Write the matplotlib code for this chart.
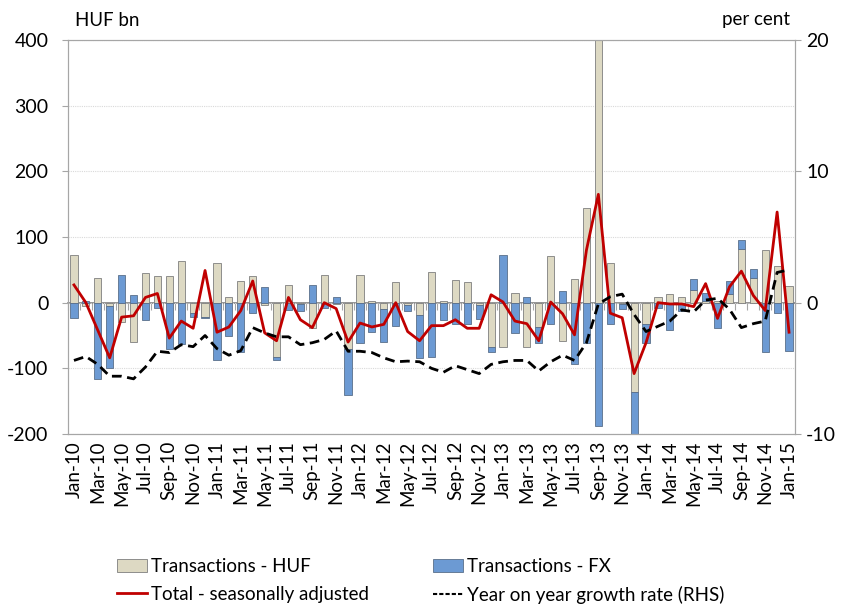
import numpy as np
import matplotlib.pyplot as plt
from matplotlib.patches import Patch
from matplotlib.lines import Line2D

plt.rcParams['font.family'] = ['Lato', 'DejaVu Sans']
plt.rcParams['axes.unicode_minus'] = False

# monthly, Jan-10 .. Jan-15
month_names = ["Jan", "Feb", "Mar", "Apr", "May", "Jun",
               "Jul", "Aug", "Sep", "Oct", "Nov", "Dec"]
months = [f"{m}-{y}" for y in range(10, 16) for m in month_names][:61]

# HUF bn
huf = [72, -5, 37, -5, -30, -60, 45, 40, 40, 63, -15, -22,
       60, 8, 33, 41, -3, -83, 27, -2, -38, 42, -2, -70,
       42, 2, -10, 32, -3, -19, 47, 3, 35, 31, -3, -68,
       -68, 15, -68, -37, 71, -58, 36, 144, 405, 60, -2, -136,
       -32, 8, 13, 9, 19, 2, 3, 13, 81, 38, 80, 56,
       25]
fx = [-23, 2, -116, -95, 42, 12, -26, -8, -70, -63, -7, -1,
      -88, -51, -75, -15, 24, -5, -11, -10, 27, -8, 9, -71,
      -62, -45, -50, -35, -9, -66, -83, -26, -32, -32, -22, -7,
      73, -46, 9, -24, -32, 18, -94, -62, -188, -33, -7, -90,
      -30, -8, -42, -13, 17, 12, -39, 20, 14, 14, -75, -16,
      -73]
total_sa = [27, 0, -42, -84, -22, -20, 8, 14, -54, -28, -39, 49,
            -45, -37, -12, 33, -46, -58, 8, -26, -38, 0, -9, -60,
            -31, -37, -33, 0, -44, -58, -35, -35, -26, -39, -39, 12,
            1, -28, -32, -58, 1, -17, -49, 80, 165, -16, -23, -108,
            -61, 0, -2, -2, -6, 29, -24, 24, 48, 11, -12, 138,
            -45]
# per cent (RHS)
yoy = [-4.4, -4.1, -4.7, -5.6, -5.6, -5.8, -4.9, -3.7, -3.8, -3.2, -3.35, -2.5,
       -3.5, -4.0, -3.65, -1.9, -2.3, -2.6, -2.6, -3.2, -3.05, -2.8, -2.15, -3.7,
       -3.7, -3.8, -4.2, -4.5, -4.45, -4.5, -5.0, -5.3, -4.8, -5.1, -5.4, -4.7,
       -4.5, -4.4, -4.4, -5.2, -4.5, -4.0, -4.4, -3.05, -0.1, 0.45, 0.65, -0.9,
       -2.2, -1.8, -1.4, -0.55, -0.7, 0.2, 0.33, -0.5, -1.9, -1.6, -1.4, 2.3,
       2.5]

x = np.arange(len(months))
huf = np.array(huf, dtype=float)
fx = np.array(fx, dtype=float)
# excel-style stacking: same sign stacks on HUF, opposite sign starts at zero
fx_bottom = np.where(np.sign(fx) == np.sign(huf), huf, 0)

huf_col = '#DDD9C3'
fx_col = '#6C9AD3'
grey = '#A6A6A6'

fig = plt.figure(figsize=(8.42, 6.06), dpi=100)
ax = fig.add_axes([68 / 842, 1 - 434 / 606, 727 / 842, 394 / 606])

ax.bar(x, huf, width=0.6, color=huf_col, edgecolor='#7F7F7F', linewidth=0.6, zorder=2)
ax.bar(x, fx, width=0.6, bottom=fx_bottom, color=fx_col, edgecolor='#5A6F8A',
       linewidth=0.6, zorder=2)
ax.plot(x, total_sa, color='#C00000', lw=2, zorder=4)

ax.set_xlim(-0.5, len(months) - 0.5)
ax.set_ylim(-200, 400)
ax.set_yticks(range(-200, 401, 100))
ax.yaxis.grid(True, color='#D9D9D9', linestyle=(0, (1, 1)), linewidth=0.8)
ax.set_axisbelow(True)
ax.set_xticks(x[::2])
ax.set_xticklabels(months[::2], rotation=90, fontsize=13.5)
ax.tick_params(axis='x', length=0, pad=5)
ax.tick_params(axis='y', labelsize=14, length=4, color=grey, pad=10)
for s in ax.spines.values():
    s.set_color(grey)

# zero line with category tick marks
zero_ax = ax.secondary_xaxis(0, transform=ax.transData)
zero_ax.set_xticks(np.arange(-0.5, len(months), 1.0))
zero_ax.tick_params(axis='x', length=5, color=grey, labelbottom=False)
zero_ax.spines['bottom'].set_color('#808080')
zero_ax.spines['bottom'].set_linewidth(1.2)

ax2 = ax.twinx()
ax2.plot(x, yoy, color='black', lw=2, linestyle=(0, (3.5, 2)), zorder=3)
ax2.set_ylim(-10, 20)
ax2.set_yticks([-10, 0, 10, 20])
ax2.tick_params(axis='y', labelsize=14, length=4, color=grey, pad=4)
for s in ax2.spines.values():
    s.set_color(grey)

fig.text(75 / 842, 1 - 20 / 606, 'HUF bn', fontsize=13.5, va='center')
fig.text(790 / 842, 1 - 20 / 606, 'per cent', fontsize=13.5, va='center', ha='right')

handles = [Patch(facecolor=huf_col, edgecolor='#7F7F7F', linewidth=0.6),
           Line2D([], [], color='#C00000', lw=2),
           Patch(facecolor=fx_col, edgecolor='#5A6F8A', linewidth=0.6),
           Line2D([], [], color='black', lw=1.5, linestyle=(0, (2, 1)))]
labels = ['Transactions - HUF', 'Total - seasonally adjusted',
          'Transactions - FX', 'Year on year growth rate (RHS)']
fig.legend(handles, labels, ncol=2, loc='center left',
           bbox_to_anchor=(108 / 842, 1 - 581 / 606), frameon=False,
           fontsize=13.5, handlelength=1.6, handletextpad=0.2,
           columnspacing=3.4, labelspacing=0.55, borderpad=0)

fig.savefig('out.png', dpi=100)
